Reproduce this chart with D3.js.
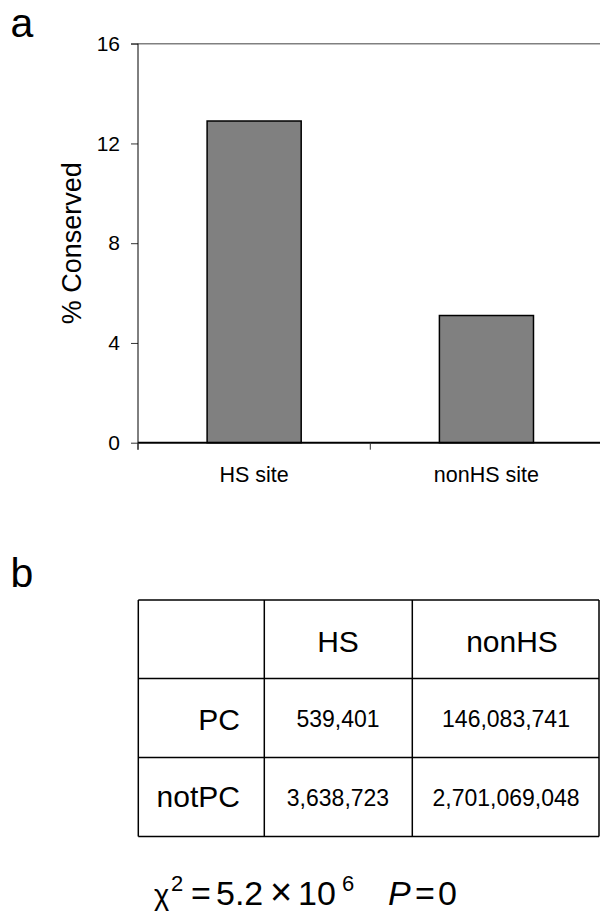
<!DOCTYPE html>
<html>
<head>
<meta charset="utf-8">
<script src="https://cdn.jsdelivr.net/npm/d3@7"></script>
<style>
  body { margin: 0; background: #fff; }
  svg { display: block; }
  text { font-family: "Liberation Sans", Arial, Helvetica, sans-serif; fill: #000; }
</style>
</head>
<body>
<svg id="fig" width="600" height="913"></svg>
<script>
// Panel a: percent of sites conserved
const categories = ["HS site", "nonHS site"];
const conserved = [12.9, 5.1];
const yTicks = [0, 4, 8, 12, 16];

// Panel b: contingency table of counts
const tableCols = ["HS", "nonHS"];
const tableRows = ["PC", "notPC"];
const counts = [
  [539401, 146083741],
  [3638723, 2701069048]
];

const svg = d3.select("#fig");

// ---------- panel a ----------
const y = d3.scaleLinear().domain([0, 16]).range([442.7, 43.7]);
const x = d3.scaleBand().domain(categories).range([138, 602.6])
  .paddingInner(0.595).paddingOuter(0.2975);

const a = svg.append("g");

// top frame line
a.append("line")
  .attr("x1", 131).attr("x2", 600)
  .attr("y1", y(16)).attr("y2", y(16))
  .attr("stroke", "#808080").attr("stroke-width", 1.5);

// y axis
const yAxis = d3.axisLeft(y).tickValues(yTicks).tickSize(7).tickPadding(11);
const yg = a.append("g").attr("transform", "translate(138,0)").call(yAxis);
yg.select(".domain").remove();
yg.selectAll(".tick line").attr("stroke", "#333").attr("stroke-width", 1);
yg.selectAll(".tick text")
  .style("font-family", '"Liberation Sans", Arial, sans-serif')
  .style("font-size", "21px").attr("fill", "#000");
a.append("line")
  .attr("x1", 138).attr("x2", 138)
  .attr("y1", y(16)).attr("y2", y(0) + 7)
  .attr("stroke", "#000").attr("stroke-width", 1);

// bars
a.selectAll("rect.bar").data(categories).join("rect")
  .attr("class", "bar")
  .attr("x", d => x(d))
  .attr("width", x.bandwidth())
  .attr("y", (d, i) => y(conserved[i]))
  .attr("height", (d, i) => y(0) - y(conserved[i]))
  .attr("fill", "#808080")
  .attr("stroke", "#000").attr("stroke-width", 1.5);

// x axis baseline and category boundary ticks
a.append("line")
  .attr("x1", 138).attr("x2", 600)
  .attr("y1", y(0)).attr("y2", y(0))
  .attr("stroke", "#000").attr("stroke-width", 2);
const bounds = d3.range(categories.length + 1).map(i => x.range()[0] + i * x.step());
a.selectAll("line.xtick").data(bounds).join("line")
  .attr("class", "xtick")
  .attr("x1", d => d).attr("x2", d => d)
  .attr("y1", y(0)).attr("y2", y(0) + 7)
  .attr("stroke", "#333").attr("stroke-width", 1);

a.selectAll("text.cat").data(categories).join("text")
  .attr("class", "cat")
  .attr("x", d => x(d) + x.bandwidth() / 2)
  .attr("y", 482)
  .attr("text-anchor", "middle")
  .style("font-size", "21.5px")
  .text(d => d);

// y axis title
a.append("text")
  .attr("transform", `translate(81,${(y(0) + y(16)) / 2}) rotate(-90)`)
  .attr("text-anchor", "middle")
  .style("font-size", "27px")
  .text("% Conserved");

// panel letters
svg.append("text").attr("x", 10.5).attr("y", 37).style("font-size", "41px").text("a");
svg.append("text").attr("x", 10.5).attr("y", 587).style("font-size", "41px").text("b");

// ---------- panel b ----------
const colEdges = [138.3, 264.3, 412.3, 599];
const rowEdges = [600, 678.5, 757.5, 836.5];
const b = svg.append("g");

b.selectAll("line.h").data(rowEdges).join("line")
  .attr("class", "h")
  .attr("x1", colEdges[0]).attr("x2", colEdges[colEdges.length - 1])
  .attr("y1", d => d).attr("y2", d => d)
  .attr("stroke", "#000").attr("stroke-width", 1.5);
b.selectAll("line.v").data(colEdges).join("line")
  .attr("class", "v")
  .attr("x1", d => d).attr("x2", d => d)
  .attr("y1", rowEdges[0]).attr("y2", rowEdges[rowEdges.length - 1])
  .attr("stroke", "#000").attr("stroke-width", 1.5);

const headerX = [338, 512];
const valueX = [338, 506];
const rowBase = [730, 807];
const valueBase = [727, 806];
const fmt = d3.format(",");

b.selectAll("text.colhead").data(tableCols).join("text")
  .attr("class", "colhead")
  .attr("x", (d, i) => headerX[i]).attr("y", 652)
  .attr("text-anchor", "middle")
  .style("font-size", "30px")
  .text(d => d);

b.selectAll("text.rowhead").data(tableRows).join("text")
  .attr("class", "rowhead")
  .attr("x", 240).attr("y", (d, i) => rowBase[i])
  .attr("text-anchor", "end")
  .style("font-size", "30px")
  .text(d => d);

counts.forEach((row, r) => {
  b.selectAll(`text.val${r}`).data(row).join("text")
    .attr("class", `val${r}`)
    .attr("x", (d, c) => valueX[c]).attr("y", valueBase[r])
    .attr("text-anchor", "middle")
    .style("font-size", "23px")
    .text(d => fmt(d));
});

// chi-square statistic, set piece by piece
const stat = svg.append("g").style("font-size", "34px");
const base = 905, sup = 891;
const piece = (px, py, str, size, style) => {
  const t = stat.append("text").attr("x", px).attr("y", py).text(str);
  if (size) t.style("font-size", size);
  if (style) t.style("font-style", style);
  return t;
};
piece(154, base, "\u03C7", "29px");
piece(171, sup, "2", "22px");
piece(191, base, "=");
piece(216, base, "5.2");
piece(270, base, "\u00D7", "38px");
piece(298, base, "10");
piece(342, sup, "6", "22px");
piece(388, base, "P", null, "italic");
piece(415, base, "=");
piece(438, base, "0");
</script>
</body>
</html>
